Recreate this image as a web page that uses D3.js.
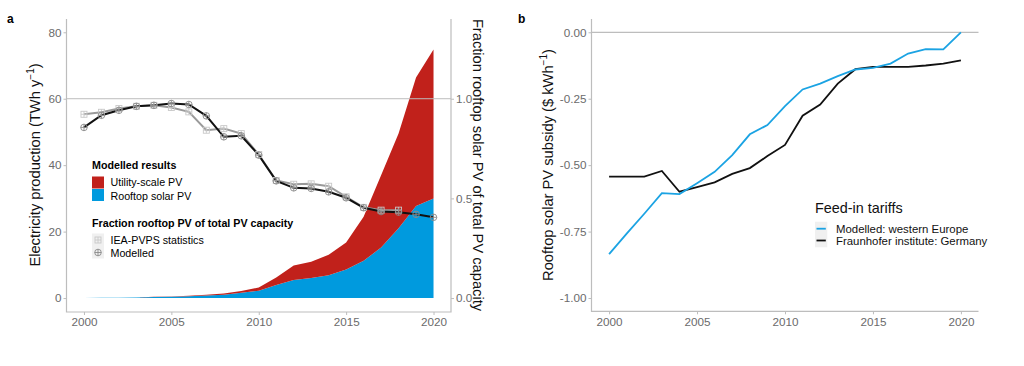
<!DOCTYPE html>
<html>
<head>
<meta charset="utf-8">
<script src="https://cdn.jsdelivr.net/npm/d3@7"></script>
<style>
  body { margin: 0; background: #fff; }
  svg { display: block; font-family: "Liberation Sans", Arial, sans-serif; }
</style>
</head>
<body>
<svg id="chart" width="1024" height="366"></svg>
<script>
// ---------- DATA ----------
const years = d3.range(2000, 2021);
// Panel a: electricity production (TWh/yr)
const rooftopPV = [0.05,0.07,0.1,0.15,0.3,0.4,0.55,0.75,1.0,1.6,2.2,3.9,5.4,6.0,6.9,8.6,11.2,15.2,21.0,27.7,30.0];
const utilityPV = [0.0,0.0,0.0,0.0,0.1,0.1,0.15,0.25,0.4,0.5,1.0,2.3,4.4,4.9,6.1,8.1,13.3,21.8,28.5,38.7,44.8];
// Fraction rooftop PV of total PV capacity
const fracModelled = [0.856,0.917,0.942,0.962,0.967,0.976,0.971,0.914,0.809,0.814,0.717,0.588,0.553,0.55,0.533,0.503,0.453,0.434,0.431,0.42,0.405];
const fracIEAYears = d3.range(2000, 2019);
const fracIEA = [0.922,0.932,0.951,0.962,0.967,0.956,0.934,0.842,0.850,0.825,0.72,0.59,0.571,0.573,0.561,0.508,0.455,0.441,0.441];
// Panel b: rooftop solar PV subsidy ($/kWh)
const subsidyModelled = [-0.835,-0.758,-0.683,-0.605,-0.609,-0.568,-0.525,-0.462,-0.384,-0.349,-0.278,-0.215,-0.193,-0.165,-0.14,-0.134,-0.118,-0.08,-0.063,-0.064,0.0];
const subsidyFraunhofer = [-0.543,-0.543,-0.543,-0.522,-0.6,-0.583,-0.565,-0.533,-0.511,-0.466,-0.424,-0.314,-0.272,-0.193,-0.139,-0.130,-0.130,-0.130,-0.125,-0.118,-0.106];
// Ticks
const xTicks = [2000, 2005, 2010, 2015, 2020];
const yTicksA = [0, 20, 40, 60, 80];
const yTicksFrac = [0, 0.5, 1.0];
const yTicksB = [0, -0.25, -0.5, -0.75, -1.0];

// ---------- STYLE ----------
const RED = "#C1211B", BLUE = "#009ADE", BLUE_LINE = "#1BA3E3";
const AXIS = "#bdbdbd", TICKTXT = "#6b6b6b";

const svg = d3.select("#chart");
svg.append("rect").attr("width", 1024).attr("height", 366).attr("fill", "#fff");

function styleAxis(g) {
  g.select(".domain").remove();
  g.selectAll(".tick line").attr("stroke", AXIS);
  g.selectAll(".tick text").attr("fill", TICKTXT).style("font-size", "11.7px");
}

// ================= PANEL A =================
const xA = d3.scaleLinear().domain([1999, 2021]).range([66.5, 451]);
const yA = d3.scaleLinear().domain([-4.2, 84]).range([312, 19]);
const yF = d3.scaleLinear().domain([-0.07, 1.4]).range([312, 19]);
const gA = svg.append("g");

const stackData = years.map((yr, i) => ({year: yr, rooftop: rooftopPV[i], utility: utilityPV[i]}));
const stack = d3.stack().keys(["rooftop", "utility"])(stackData);
const area = d3.area().x(d => xA(d.data.year)).y0(d => yA(d[0])).y1(d => yA(d[1]));
gA.selectAll("path.area").data(stack).join("path")
  .attr("d", area).attr("fill", (d, i) => i === 0 ? BLUE : RED);

// hline at fraction 1.0
gA.append("line").attr("x1", xA(1999)).attr("x2", xA(2021))
  .attr("y1", yF(1)).attr("y2", yF(1)).attr("stroke", AXIS).attr("stroke-width", 1);

// axes
gA.append("g").attr("transform", `translate(${xA(1999)},0)`)
  .call(d3.axisLeft(yA).tickValues(yTicksA).tickSize(3).tickPadding(2)).call(styleAxis);
gA.append("g").attr("transform", `translate(${xA(2021)},0)`)
  .call(d3.axisRight(yF).tickValues(yTicksFrac).tickSize(3).tickPadding(2).tickFormat(d => d.toFixed(1))).call(styleAxis);
gA.append("g").attr("transform", `translate(0,312)`)
  .call(d3.axisBottom(xA).tickValues(xTicks).tickSize(3).tickPadding(3).tickFormat(d3.format("d"))).call(styleAxis);
gA.append("path").attr("d", `M${xA(1999)},19V312H${xA(2021)}V19`).attr("fill", "none").attr("stroke", AXIS).attr("stroke-width", 1.2);

// fraction lines
const lineIEA = d3.line().x((d, i) => xA(fracIEAYears[i])).y(d => yF(d));
const lineMod = d3.line().x((d, i) => xA(years[i])).y(d => yF(d));
gA.append("path").attr("d", lineIEA(fracIEA)).attr("fill", "none").attr("stroke", "#9a9a9a").attr("stroke-width", 2);
gA.append("path").attr("d", lineMod(fracModelled)).attr("fill", "none").attr("stroke", "#111").attr("stroke-width", 2);

function squarePlus(g, cx, cy, col) {
  g.append("rect").attr("x", cx - 3).attr("y", cy - 3).attr("width", 6).attr("height", 6)
    .attr("fill", "none").attr("stroke", col).attr("stroke-width", 0.9);
  g.append("path").attr("d", `M${cx - 3},${cy}H${cx + 3}M${cx},${cy - 3}V${cy + 3}`).attr("stroke", col).attr("stroke-width", 0.9);
}
function circlePlus(g, cx, cy, col) {
  g.append("circle").attr("cx", cx).attr("cy", cy).attr("r", 3.3)
    .attr("fill", "none").attr("stroke", col).attr("stroke-width", 0.9);
  g.append("path").attr("d", `M${cx - 3.3},${cy}H${cx + 3.3}M${cx},${cy - 3.3}V${cy + 3.3}`).attr("stroke", col).attr("stroke-width", 0.9);
}
const ptsG = gA.append("g");
fracIEA.forEach((v, i) => squarePlus(ptsG, xA(fracIEAYears[i]), yF(v), "#c8c8c8"));
fracModelled.forEach((v, i) => circlePlus(ptsG, xA(years[i]), yF(v), "#8a8a8a"));

// axis titles
gA.append("text").attr("transform", "translate(40,165) rotate(-90)")
  .attr("text-anchor", "middle").style("font-size", "14.7px").attr("fill", "#111")
  .html('Electricity production (TWh y<tspan dy="-6" style="font-size:10px">−1</tspan><tspan dy="6">)</tspan>');
gA.append("text").attr("transform", "translate(473,165) rotate(90)")
  .attr("text-anchor", "middle").style("font-size", "14.7px").attr("fill", "#111")
  .text("Fraction rooftop solar PV of total PV capacity");

// legend a
const lg = gA.append("g").style("font-size", "10.7px");
lg.append("text").attr("x", 92).attr("y", 169).attr("font-weight", "bold").text("Modelled results");
lg.append("rect").attr("x", 92).attr("y", 176.5).attr("width", 12).attr("height", 12).attr("fill", RED);
lg.append("rect").attr("x", 92).attr("y", 189).attr("width", 12).attr("height", 12).attr("fill", BLUE);
lg.append("text").attr("x", 110.5).attr("y", 186).text("Utility-scale PV");
lg.append("text").attr("x", 110.5).attr("y", 199.5).text("Rooftop solar PV");
lg.append("text").attr("x", 92).attr("y", 227).attr("font-weight", "bold").text("Fraction rooftop PV of total PV capacity");
lg.append("rect").attr("x", 92).attr("y", 233.5).attr("width", 12).attr("height", 25).attr("fill", "#f0f0f0");
squarePlus(lg, 98, 240, "#c8c8c8");
circlePlus(lg, 98, 252.5, "#8a8a8a");
lg.append("text").attr("x", 110.5).attr("y", 244).text("IEA-PVPS statistics");
lg.append("text").attr("x", 110.5).attr("y", 256.5).text("Modelled");

svg.append("text").attr("x", 7).attr("y", 23).attr("font-weight", "bold").style("font-size", "12px").text("a");

// ================= PANEL B =================
const xB = d3.scaleLinear().domain([1999, 2021]).range([591.5, 978.5]);
const yB = d3.scaleLinear().domain([-1.05, 0.05]).range([311.3, 19]);
const gB = svg.append("g");

gB.append("line").attr("x1", xB(1999)).attr("x2", xB(2021))
  .attr("y1", yB(0)).attr("y2", yB(0)).attr("stroke", AXIS).attr("stroke-width", 1.2);

gB.append("g").attr("transform", `translate(${xB(1999)},0)`)
  .call(d3.axisLeft(yB).tickValues(yTicksB).tickSize(3).tickPadding(2).tickFormat(d => d.toFixed(2))).call(styleAxis);
gB.append("g").attr("transform", `translate(0,311.3)`)
  .call(d3.axisBottom(xB).tickValues(xTicks).tickSize(3).tickPadding(3).tickFormat(d3.format("d"))).call(styleAxis);
gB.append("path").attr("d", `M${xB(1999)},19V311.3H${xB(2021)}`).attr("fill", "none").attr("stroke", AXIS).attr("stroke-width", 1.2);

const lineB = d3.line().x((d, i) => xB(years[i])).y(d => yB(d));
gB.append("path").attr("d", lineB(subsidyFraunhofer)).attr("fill", "none").attr("stroke", "#111").attr("stroke-width", 1.8);
gB.append("path").attr("d", lineB(subsidyModelled)).attr("fill", "none").attr("stroke", BLUE_LINE).attr("stroke-width", 1.8);

gB.append("text").attr("transform", "translate(553,165) rotate(-90)")
  .attr("text-anchor", "middle").style("font-size", "14.7px").attr("fill", "#111")
  .html('Rooftop solar PV subsidy ($ kWh<tspan dy="-6" style="font-size:10px">−1</tspan><tspan dy="6">)</tspan>');

const lgB = gB.append("g");
lgB.append("text").attr("x", 815).attr("y", 213).style("font-size", "14.4px").attr("fill", "#111").text("Feed-in tariffs");
lgB.append("rect").attr("x", 815).attr("y", 221.7).attr("width", 12.3).attr("height", 25.6).attr("fill", "#f0f0f0");
lgB.append("line").attr("x1", 816.5).attr("x2", 825.8).attr("y1", 228.7).attr("y2", 228.7).attr("stroke", BLUE_LINE).attr("stroke-width", 1.8);
lgB.append("line").attr("x1", 816.5).attr("x2", 825.8).attr("y1", 240.5).attr("y2", 240.5).attr("stroke", "#111").attr("stroke-width", 1.8);
lgB.append("text").attr("x", 836).attr("y", 232.8).style("font-size", "11.4px").attr("fill", "#111").text("Modelled: western Europe");
lgB.append("text").attr("x", 836).attr("y", 244.8).style("font-size", "11.4px").attr("fill", "#111").text("Fraunhofer institute: Germany");

svg.append("text").attr("x", 518).attr("y", 23).attr("font-weight", "bold").style("font-size", "12px").text("b");
</script>
</body>
</html>
